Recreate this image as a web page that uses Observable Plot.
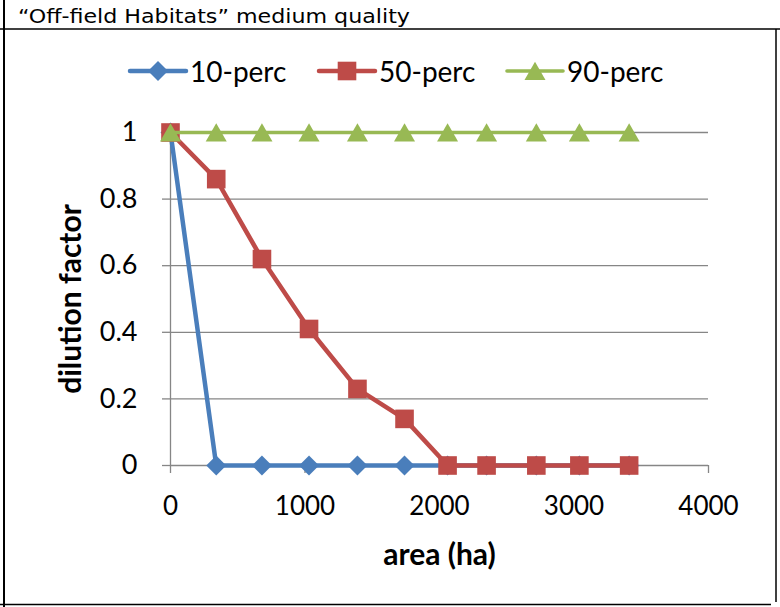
<!DOCTYPE html>
<html>
<head>
<meta charset="utf-8">
<script src="https://cdn.jsdelivr.net/npm/d3@7"></script>
<script src="https://cdn.jsdelivr.net/npm/@observablehq/plot@0.6"></script>
<style>
  body { margin: 0; background: #fff; }
  #wrap { position: relative; width: 780px; height: 607px; overflow: hidden; background: #fff; }
  #wrap svg { position: absolute; left: 0; top: 0; }
</style>
</head>
<body>
<div id="wrap"></div>
<script>
// ---- data ----
const areaHa = [0, 340, 680, 1030, 1390, 1740, 2060, 2350, 2720, 3040, 3410];
const perc10 = [1, 0, 0, 0, 0, 0, 0, 0, 0, 0, 0];
const perc50 = [1, 0.86, 0.62, 0.41, 0.23, 0.14, 0, 0, 0, 0, 0];
const perc90 = [1, 1, 1, 1, 1, 1, 1, 1, 1, 1, 1];
const seriesNames = ["10-perc", "50-perc", "90-perc"];
const xTicks = [0, 1000, 2000, 3000, 4000];
const yTicks = [0, 0.2, 0.4, 0.6, 0.8, 1];
const titleText = "\u201COff-field Habitats\u201D medium quality";
const xLabel = "area (ha)";
const yLabel = "dilution factor";

// ---- styles ----
const colors = ["#4A7EBB", "#BE4B48", "#98B954"];
const symbols = ["diamond2", "square", "triangle"];
const radii = [9, 10.5, 7.8];
const dys = [0, 0, 3];
const widths = [4.5, 4.5, 3.6];
const gridColor = "#868686";
const font = "Lato, 'Open Sans', sans-serif";

const allValues = [perc10, perc50, perc90];
const series = seriesNames.map((name, i) =>
  areaHa.map((a, j) => ({series: name, area: a, value: allValues[i][j]})));

const marks = [
  Plot.gridY(yTicks.filter(d => d > 0), {stroke: gridColor, strokeOpacity: 1, strokeWidth: 1.3}),
  Plot.ruleX([0], {stroke: gridColor, strokeWidth: 1.3}),
  Plot.ruleY([0], {stroke: gridColor, strokeWidth: 1.3}),
  Plot.axisY(yTicks, {
    tickSize: 8, tickPadding: 25, stroke: gridColor, strokeWidth: 1.3, fill: "#000",
    fontSize: 27, tickFormat: d => String(+d.toFixed(1)),
    label: yLabel, labelAnchor: "center", labelOffset: 111, labelArrow: "none"
  }),
  Plot.axisX(xTicks, {
    tickSize: 8, tickPadding: 23, stroke: gridColor, strokeWidth: 1.3, fill: "#000",
    fontSize: 26, tickFormat: d => String(d),
    label: xLabel, labelAnchor: "center", labelOffset: 99, labelArrow: "none"
  })
];
series.forEach((s, i) => {
  marks.push(Plot.line(s, {x: "area", y: "value", stroke: colors[i], strokeWidth: widths[i], strokeLinejoin: "round", strokeLinecap: "round"}));
  marks.push(Plot.dot(s, {x: "area", y: "value", symbol: symbols[i], r: radii[i], fill: colors[i], stroke: "none", dy: dys[i]}));
});

const chart = Plot.plot({
  width: 780,
  height: 607,
  marginLeft: 170,
  marginRight: 72,
  marginTop: 132,
  marginBottom: 142,
  style: {fontFamily: font, background: "transparent", color: "#000"},
  x: {domain: [0, 4000]},
  y: {domain: [0, 1]},
  marks
});
document.getElementById("wrap").appendChild(chart);

// style axis labels bold; strip any arrow if present
d3.select(chart).selectAll("g[aria-label='x-axis label'] text, g[aria-label='y-axis label'] text")
  .style("font-weight", "bold").style("font-size", "30px")
  .each(function() { this.textContent = this.textContent.replace(/\s*[\u2192\u2191\u2190\u2193]\s*/g, "").trim(); });

// ---- overlay: title, frame, legend ----
const svg = d3.select("#wrap").append("svg").attr("width", 780).attr("height", 607);
svg.append("text").attr("x", 18).attr("y", 23)
  .attr("font-family", "'DejaVu Sans', Verdana, sans-serif").attr("font-size", 19)
  .attr("textLength", 392).attr("lengthAdjust", "spacingAndGlyphs")
  .text(titleText);
svg.append("line").attr("x1", 4).attr("x2", 4).attr("y1", 0).attr("y2", 607).attr("stroke", "#000").attr("stroke-width", 2);
svg.append("line").attr("x1", 0).attr("x2", 780).attr("y1", 29).attr("y2", 29).attr("stroke", "#000").attr("stroke-width", 1.5);
svg.append("line").attr("x1", 776).attr("x2", 776).attr("y1", 29).attr("y2", 602).attr("stroke", "#000").attr("stroke-width", 1.5);
svg.append("line").attr("x1", 0).attr("x2", 771).attr("y1", 604.5).attr("y2", 604.5).attr("stroke", "#000").attr("stroke-width", 1.5);

const legendX = [130, 319, 507];
const d3sym = [d3.symbolDiamond2, d3.symbolSquare, d3.symbolTriangle];
seriesNames.forEach((name, i) => {
  const g = svg.append("g");
  const x0 = legendX[i];
  g.append("line").attr("x1", x0).attr("x2", x0 + 56).attr("y1", 71).attr("y2", 71)
    .attr("stroke", colors[i]).attr("stroke-width", widths[i]).attr("stroke-linecap", "round");
  g.append("path").attr("transform", `translate(${x0 + 28},${71 + dys[i]})`)
    .attr("d", d3.symbol(d3sym[i], radii[i] * radii[i] * Math.PI)()).attr("fill", colors[i]);
  g.append("text").attr("x", x0 + 60).attr("y", 82)
    .attr("font-family", font).attr("font-size", 28).attr("fill", "#000").text(name);
});
</script>
</body>
</html>
